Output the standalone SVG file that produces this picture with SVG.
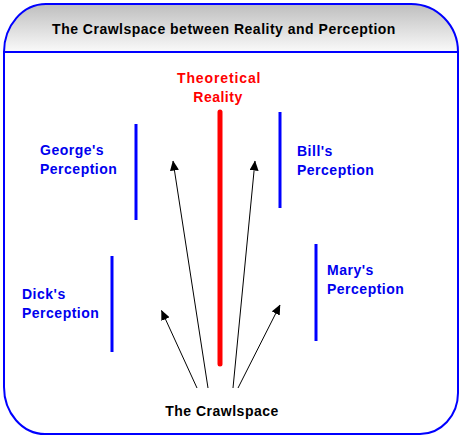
<svg xmlns="http://www.w3.org/2000/svg" width="464" height="441" viewBox="0 0 464 441">
  <defs>
    <linearGradient id="hdr" x1="0" y1="0" x2="0" y2="1">
      <stop offset="0" stop-color="#bebebe"/>
      <stop offset="1" stop-color="#fafafa"/>
    </linearGradient>
    <marker id="ah" viewBox="0 0 10 9" refX="9.5" refY="4.5" markerWidth="10" markerHeight="9" markerUnits="userSpaceOnUse" orient="auto">
      <path d="M0,0 L10,4.5 L0,9 z" fill="#000"/>
    </marker>
    <style>
      .frame { stroke: #0000ff; stroke-width: 2; }
      .t { font-family: "Liberation Sans", Arial, sans-serif; font-weight: bold; font-size: 14px; letter-spacing: 0.5px; }
      .blue { fill: #0000ee; }
      .vline { stroke: #0000ff; stroke-width: 3; }
      .arrow { stroke: #000; stroke-width: 1; fill: none; marker-end: url(#ah); }
    </style>
  </defs>
  <rect width="464" height="441" fill="#fff"/>
  <g id="frame">
    <path class="frame" d="M4,52 L4,387 A41,47 0 0 0 45,434 L420,434 A38,41 0 0 0 458,393 L458,52 Z" fill="#fff"/>
    <path class="frame" d="M4,52 A42,48 0 0 1 46,4 L411,4 A47,48 0 0 1 458,52 Z" fill="url(#hdr)"/>
  </g>
  <g id="title">
    <text class="t" x="224" y="34" text-anchor="middle" fill="#000">The Crawlspace between Reality and Perception</text>
  </g>
  <g id="theoretical-reality">
    <line x1="220" y1="112" x2="220" y2="364" stroke="#ff0000" stroke-width="5" stroke-linecap="round"/>
    <text class="t" x="177" y="83" textLength="84" lengthAdjust="spacing" fill="#ff0000">Theoretical</text>
    <text class="t" x="218" y="102" text-anchor="middle" fill="#ff0000">Reality</text>
  </g>
  <g id="george">
    <line class="vline" x1="136" y1="124" x2="136" y2="220"/>
    <text class="t blue" x="40" y="155">George's</text>
    <text class="t blue" x="40" y="174">Perception</text>
  </g>
  <g id="bill">
    <line class="vline" x1="280" y1="112" x2="280" y2="208"/>
    <text class="t blue" x="297" y="156">Bill's</text>
    <text class="t blue" x="297" y="175">Perception</text>
  </g>
  <g id="dick">
    <line class="vline" x1="112" y1="256" x2="112" y2="352"/>
    <text class="t blue" x="22" y="299">Dick's</text>
    <text class="t blue" x="22" y="318">Perception</text>
  </g>
  <g id="mary">
    <line class="vline" x1="316" y1="244" x2="316" y2="341"/>
    <text class="t blue" x="327" y="275">Mary's</text>
    <text class="t blue" x="327" y="294">Perception</text>
  </g>
  <g id="crawlspace">
    <text class="t" x="222" y="416" text-anchor="middle" fill="#000">The Crawlspace</text>
  </g>
  <g id="connectors">
    <line class="arrow" x1="197" y1="388" x2="161.5" y2="310.5"/>
    <line class="arrow" x1="208" y1="388" x2="173" y2="161"/>
    <line class="arrow" x1="233" y1="388" x2="255" y2="161"/>
    <line class="arrow" x1="238" y1="388" x2="280" y2="305"/>
  </g>
</svg>
